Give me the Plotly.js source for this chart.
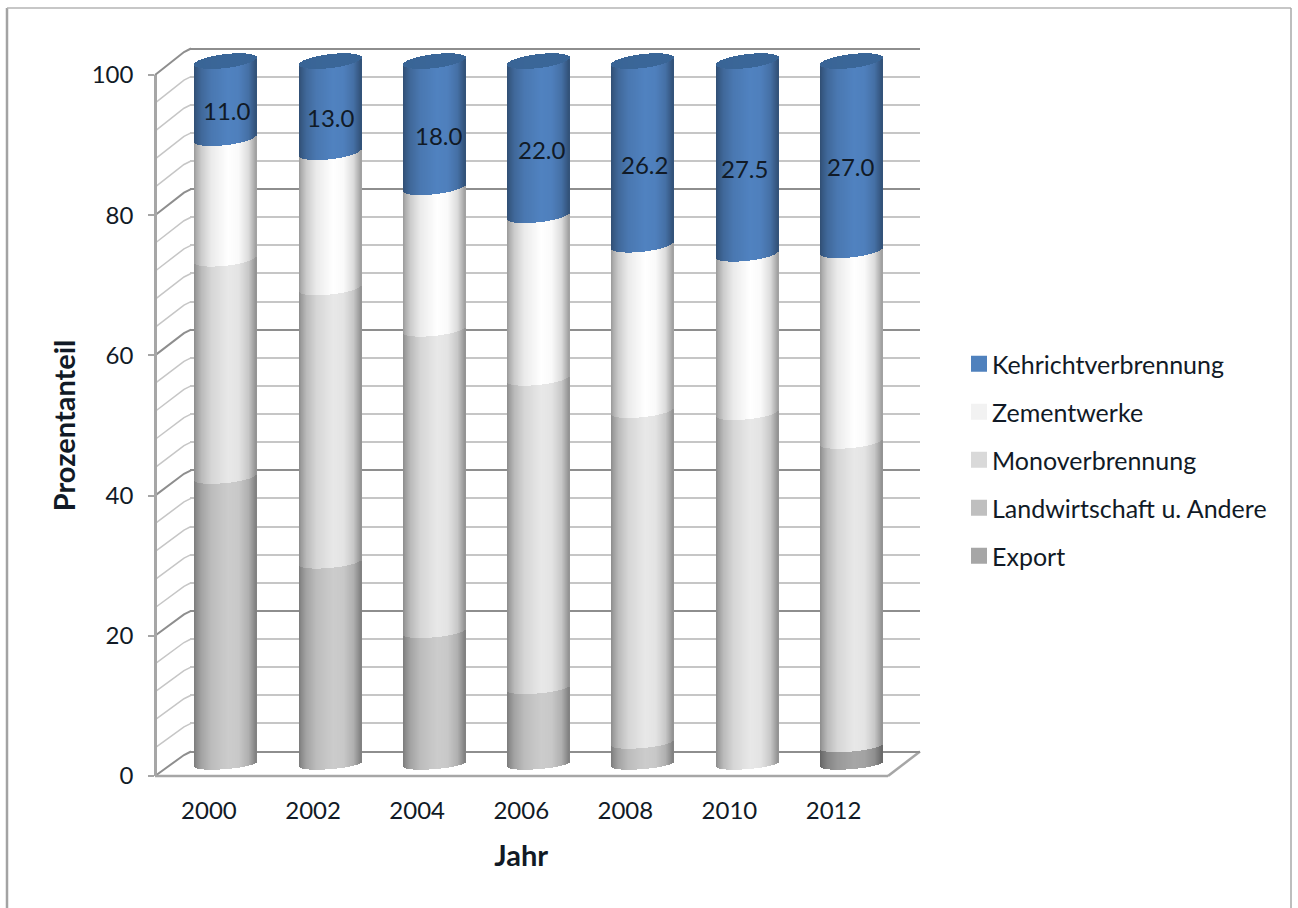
<!DOCTYPE html>
<html>
<head>
<meta charset="utf-8">
<script src="https://cdn.plot.ly/plotly-3.0.1.min.js"></script>
<style>html,body{margin:0;padding:0;background:#fff}#chart{width:1298px;height:908px}</style>
</head>
<body>
<div id="chart"></div>
<script>
// Anteile der Entsorgungswege in Prozent
const years = ['2000','2002','2004','2006','2008','2010','2012'];
const kehricht = [11.0, 13.0, 18.0, 22.0, 26.2, 27.5, 27.0];
const zement = [17.2, 19.3, 20.2, 23.2, 23.6, 22.6, 27.2];
const mono = [31.0, 39.0, 43.0, 44.0, 47.2, 49.9, 43.3];
const landwirtschaft = [40.8, 28.7, 18.8, 10.8, 3.0, 0, 0];
const exportAnteil = [0, 0, 0, 0, 0, 0, 2.5];

// Stapelreihenfolge von unten nach oben
const stack = [
  {name: 'Export', values: exportAnteil, color: [166, 166, 166], swatch: '#a6a6a6'},
  {name: 'Landwirtschaft u. Andere', values: landwirtschaft, color: [204, 204, 204], swatch: '#bfbfbf'},
  {name: 'Monoverbrennung', values: mono, color: [232, 232, 232], swatch: '#d9d9d9'},
  {name: 'Zementwerke', values: zement, color: [255, 255, 255], swatch: '#f2f2f2'},
  {name: 'Kehrichtverbrennung', values: kehricht, color: [80, 130, 192], swatch: '#4f81bd'}
];

const W = 1298, H = 908;
const px = x => x / W;
const py = y => 1 - y / H;

// Zylindergeometrie in Pixeln
const catStep = 104.25, radius = 31, unitPx = 7.03;
const ellipseB = v => 5 + 0.02 * v;
const ellipseT = v => 2.5 + 0.01 * v;
const frontCurve = (u, v) => (ellipseT(v) * u - ellipseB(v) * Math.sqrt(1 - u * u)) / unitPx;
const backCurve = (u, v) => (ellipseT(v) * u + ellipseB(v) * Math.sqrt(1 - u * u)) / unitPx;

// Helligkeitsverlauf über die Zylinderbreite
const shadeStops = [[0, .60], [.04, .68], [.12, .80], [.28, .92], [.55, 1], [.72, .98], [.88, .86], [.96, .70], [1, .62]];
function shade(t) {
  for (let i = 1; i < shadeStops.length; i++) {
    if (t <= shadeStops[i][0]) {
      const a = shadeStops[i - 1], b = shadeStops[i];
      return a[1] + (b[1] - a[1]) * (t - a[0]) / (b[0] - a[0]);
    }
  }
  return 1;
}
const rgb = (c, f) => `rgb(${c.map(k => Math.round(k * f)).join(',')})`;

const positions = years.map((_, i) => i);
const traces = [];
const stripCount = 62;
for (let s = 0; s < stripCount; s++) {
  const t = (s + 0.5) / stripCount;
  const u = 2 * t - 1;
  const f = shade(t);
  const cum = years.map(() => 0);
  stack.forEach(seg => {
    const base = [], height = [];
    years.forEach((_, i) => {
      const lo = cum[i], hi = cum[i] + seg.values[i];
      base.push(lo + frontCurve(u, lo));
      height.push(seg.values[i] > 0 ? (hi + frontCurve(u, hi)) - (lo + frontCurve(u, lo)) : 0);
      cum[i] = hi;
    });
    traces.push({
      type: 'bar', xaxis: 'x3', yaxis: 'y3', x: positions, y: height, base: base,
      width: 1.3 / catStep, offset: (u * radius - 0.65) / catStep,
      marker: {color: rgb(seg.color, f), line: {width: 0}},
      cliponaxis: false, showlegend: false, hoverinfo: 'skip'
    });
  });
  // Deckel des obersten Segments
  traces.push({
    type: 'bar', xaxis: 'x3', yaxis: 'y3', x: positions,
    y: cum.map(v => backCurve(u, v) - frontCurve(u, v)),
    base: cum.map(v => v + frontCurve(u, v)),
    width: 1.3 / catStep, offset: (u * radius - 0.65) / catStep,
    marker: {color: rgb([58, 102, 152], 0.94 + 0.06 * f), line: {width: 0}},
    cliponaxis: false, showlegend: false, hoverinfo: 'skip'
  });
}

// Legendeneinträge in der Reihenfolge von oben nach unten
[...stack].reverse().forEach(seg => {
  traces.push({
    type: 'scatter', mode: 'markers', xaxis: 'x2', yaxis: 'y2', x: years, y: years.map(() => null),
    name: seg.name, legendgroup: seg.name, showlegend: true,
    marker: {symbol: 'square', size: 16, color: seg.swatch}, hoverinfo: 'skip'
  });
});
// Hilfsspur, damit die Rückwand als eigener Plotbereich gezeichnet wird
traces.unshift({type: 'scatter', mode: 'markers', x: [0], y: [null], showlegend: false, hoverinfo: 'skip'});

// Seitenwand und Boden
const gridLight = '#c6c6c6', gridDark = '#8e8e8e', floorLine = '#a6a6a6';
const shapes = [];
const frontY = v => 776 - 7.01 * v, backY = v => 751.5 - 7.03 * v;
for (let v = 0; v <= 100; v += 4) {
  const dark = v % 20 === 0;
  shapes.push({
    type: 'path', xref: 'paper', yref: 'paper', layer: 'below',
    path: `M${px(155)},${py(frontY(v))} L${px(184)},${py(backY(v) + 3.5)} L${px(191)},${py(backY(v))}`,
    line: {color: dark ? gridDark : gridLight, width: dark ? 2 : 1.5}
  });
}
[[[155, 776], [888, 776]], [[888, 776], [920, 751.5]]].forEach(([a, b]) => {
  shapes.push({
    type: 'line', xref: 'paper', yref: 'paper', layer: 'below',
    x0: px(a[0]), y0: py(a[1]), x1: px(b[0]), y1: py(b[1]),
    line: {color: floorLine, width: 2.5}
  });
});
// Rahmen um die Grafik
shapes.push({type: 'line', xref: 'paper', yref: 'paper', x0: px(7), y0: 0, x1: px(7), y1: py(8), line: {color: '#a3a3a3', width: 2.5}});
shapes.push({type: 'line', xref: 'paper', yref: 'paper', x0: px(7), y0: py(8), x1: px(1291), y1: py(8), line: {color: '#b5b5b5', width: 1.5}});
shapes.push({type: 'line', xref: 'paper', yref: 'paper', x0: px(1291), y0: py(8), x1: px(1291), y1: 0, line: {color: '#a8a8a8', width: 1.5}});

// Wertbeschriftung der Kehrichtverbrennung
const labelDx = [0, 0, 4, 3, 1, -3, -1];
const annotations = kehricht.map((v, i) => ({
  xref: 'x3', yref: 'y3', x: i, y: 100 - v / 2, yshift: -10.5, xshift: labelDx[i],
  text: v.toFixed(1), showarrow: false, font: {family: 'Lato', size: 24, color: '#111a26'}
}));

const hidden = {visible: false, fixedrange: true};
const wallPad = 2, cylPad = 4;
const layout = {
  width: W, height: H, margin: {l: 0, r: 0, t: 0, b: 0},
  paper_bgcolor: '#ffffff', plot_bgcolor: 'rgba(0,0,0,0)',
  font: {family: 'Lato', color: '#111a26', size: 24},
  barmode: 'overlay', bargap: 0, showlegend: true, shapes, annotations,
  legend: {
    x: px(952), y: py(341), xanchor: 'left', yanchor: 'top',
    traceorder: 'grouped', tracegroupgap: 12.5, itemclick: false, itemdoubleclick: false,
    font: {family: 'Lato', size: 25, color: '#111a26'}, bgcolor: 'rgba(0,0,0,0)', itemwidth: 30
  },
  // Rückwand mit Gitterlinien
  xaxis: Object.assign({domain: [px(190), px(920)], range: [0, 1], type: 'linear'}, hidden),
  yaxis: {
    domain: [py(751.5 + wallPad * 7.03), py(48.5 - wallPad * 7.03)], range: [-wallPad, 100 + wallPad],
    dtick: 20, tick0: 0, anchor: 'x',
    showgrid: true, gridcolor: gridDark, gridwidth: 2, zeroline: false, showline: false,
    ticks: '', showticklabels: false, fixedrange: true,
    minor: {dtick: 4, showgrid: true, gridcolor: gridLight, gridwidth: 2, ticks: ''}
  },
  // Vordere Achsen mit Beschriftung
  xaxis2: {
    domain: [px(156.9), px(885.6)], type: 'category', categoryorder: 'array', categoryarray: years,
    range: [-0.5, 6.5], anchor: 'y2', showgrid: false, zeroline: false, showline: false, ticks: '', fixedrange: true,
    ticklabelstandoff: 18, tickfont: {family: 'Lato', size: 24},
    title: {text: '<b>Jahr</b>', standoff: 22, font: {family: 'Lato', size: 29}}
  },
  yaxis2: {
    domain: [py(776), py(75)], range: [0, 100], dtick: 20, anchor: 'free', position: px(155),
    showgrid: false, zeroline: false, showline: true, linecolor: floorLine, linewidth: 2.5,
    ticks: 'outside', ticklen: 6, tickwidth: 2, tickcolor: floorLine, fixedrange: true,
    ticklabelstandoff: 10, tickfont: {family: 'Lato', size: 24},
    title: {text: '<b>Prozentanteil</b>', standoff: 6, font: {family: 'Lato', size: 29}}
  },
  // Zylinder
  xaxis3: Object.assign({
    domain: [px(174.4), px(174.4 + 7 * catStep)], type: 'linear', range: [-0.5, 6.5], anchor: 'y3'
  }, hidden),
  yaxis3: Object.assign({
    domain: [py(764.5 + cylPad * unitPx), py(61.5 - cylPad * unitPx)], range: [-cylPad, 100 + cylPad], anchor: 'x3'
  }, hidden)
};

Plotly.newPlot('chart', traces, layout, {displayModeBar: false}).then(gd => {
  // Legendensymbole näher an den Text rücken
  gd.querySelectorAll('.legend .legendsymbols').forEach(g => g.setAttribute('transform', 'translate(7,0)'));
});
</script>
</body>
</html>
